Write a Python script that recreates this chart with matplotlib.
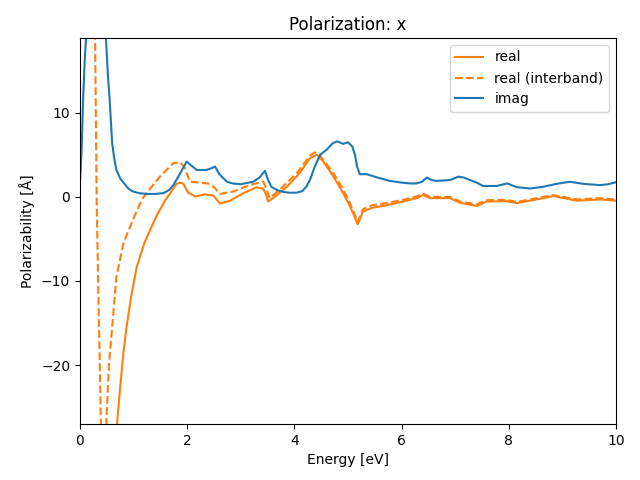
import numpy as np
import matplotlib.pyplot as plt

# energy grid and values
e_imag = [0.0, 0.03, 0.06, 0.09, 0.125, 0.2, 0.3, 0.4, 0.45, 0.485, 0.52, 0.55, 0.6,
          0.64, 0.68, 0.75, 0.81, 0.9, 0.99, 1.1, 1.24, 1.4, 1.56, 1.66, 1.74, 1.87, 1.99,
          2.1, 2.18, 2.36, 2.45, 2.52, 2.6, 2.74, 2.85, 2.99, 3.23, 3.35, 3.45, 3.51, 3.57,
          3.68, 3.79, 3.9, 4.04, 4.15, 4.22, 4.29, 4.38, 4.48, 4.6, 4.72, 4.8, 4.91, 5.0,
          5.08, 5.13, 5.17, 5.22, 5.35, 5.55, 5.78, 6.0, 6.16, 6.28, 6.38, 6.47, 6.56, 6.66,
          6.9, 7.06, 7.16, 7.28, 7.4, 7.52, 7.78, 7.9, 7.97, 8.05, 8.15, 8.4, 8.64, 8.89,
          9.14, 9.39, 9.7, 9.85, 10.0]
imag = [1.7, 5.5, 12.0, 16.5, 20.0, 38.0, 48.0, 32.0, 24.0, 18.7, 14.5, 11.9, 6.4,
        4.5, 3.2, 2.2, 1.7, 1.0, 0.64, 0.45, 0.35, 0.35, 0.45, 0.8, 1.4, 2.8, 4.2,
        3.6, 3.2, 3.2, 3.4, 3.6, 2.7, 1.8, 1.6, 1.5, 1.8, 2.3, 3.1, 2.0, 1.2,
        0.8, 0.6, 0.5, 0.5, 0.7, 1.2, 2.0, 3.6, 5.0, 5.6, 6.4, 6.6, 6.3, 6.5,
        6.0, 5.0, 3.6, 2.7, 2.7, 2.3, 1.9, 1.7, 1.6, 1.6, 1.8, 2.3, 2.0, 1.9,
        2.0, 2.4, 2.3, 2.0, 1.7, 1.3, 1.3, 1.5, 1.6, 1.4, 1.15, 1.0, 1.2, 1.55,
        1.8, 1.55, 1.4, 1.5, 1.75]

e_real = [0.25, 0.35, 0.45, 0.55, 0.62, 0.69, 0.75, 0.81, 0.87, 0.95, 1.06, 1.2, 1.31,
          1.45, 1.59, 1.7, 1.8, 1.87, 1.93, 2.02, 2.15, 2.33, 2.49, 2.61, 2.8, 3.05, 3.3,
          3.42, 3.47, 3.51, 3.61, 3.86, 4.1, 4.29, 4.42, 4.54, 4.73, 4.91, 5.04, 5.1, 5.18,
          5.28, 5.45, 5.66, 6.03, 6.3, 6.4, 6.53, 6.9, 7.09, 7.4, 7.59, 7.96, 8.15,
          8.52, 8.83, 9.27, 9.7, 10.0]
real = [-250.0, -130.0, -75.0, -45.0, -34.0, -27.0, -22.6, -18.5, -15.4, -12.0, -8.3,
        -5.5, -3.9, -2.0, -0.4, 0.6, 1.55, 1.7, 1.55, 0.5, 0.05, 0.3, 0.15, -0.8,
        -0.45, 0.45, 1.15, 0.95, 0.3, -0.55, -0.1, 1.2, 2.85, 4.6, 5.0, 4.2, 2.4, 0.45,
        -1.15, -2.0, -3.25, -1.75, -1.3, -1.07, -0.55, -0.1, 0.24, -0.15, -0.15, -0.7,
        -1.07, -0.55, -0.5, -0.75, -0.3, 0.1, -0.45, -0.3, -0.45]

e_inter = [0.0, 0.1, 0.2, 0.25, 0.28, 0.31, 0.35, 0.39, 0.42, 0.45, 0.49, 0.54, 0.59,
           0.68, 0.81, 0.99, 1.15, 1.24, 1.49, 1.74, 1.87, 1.96, 2.05, 2.24, 2.43, 2.52,
           2.61, 2.86, 3.17, 3.42, 3.48, 3.54, 3.73, 4.04, 4.29, 4.38, 4.48, 4.73, 4.91,
           5.04, 5.1, 5.18, 5.28, 5.45, 5.66, 6.03, 6.3, 6.4, 6.53, 6.9, 7.09, 7.4, 7.59,
           7.96, 8.15, 8.52, 8.83, 9.27, 9.7, 10.0]
inter = [28.0, 33.0, 42.0, 35.0, 20.0, 0.0, -14.0, -27.0, -40.0, -36.0, -27.0, -20.0,
         -16.2, -9.5, -5.5, -2.7, -0.36, 0.44, 2.4, 4.0, 4.1, 3.4, 1.8, 1.7, 1.55, 1.03,
         0.36, 0.64, 1.43, 1.8, 0.9, -0.15, 0.9, 2.8, 4.9, 5.3, 4.9, 2.8, 0.9, -0.8,
         -1.7, -3.0, -1.45, -1.0, -0.8, -0.35, 0.1, 0.4, 0.0, 0.0, -0.55, -0.9, -0.4,
         -0.35, -0.6, -0.15, 0.2, -0.3, -0.15, -0.3]

fig, ax = plt.subplots(figsize=(6.4, 4.8))
ax.plot(e_real, real, color='C1', label='real')
ax.plot(e_inter, inter, color='C1', linestyle='--', label='real (interband)')
ax.plot(e_imag, imag, color='C0', label='imag')
ax.set_xlim(0, 10)
ax.set_ylim(-27.0, 18.9)
ax.set_xlabel('Energy [eV]')
ax.set_ylabel('Polarizability [Å]')
ax.set_title('Polarization: x')
ax.legend(loc='upper right')
fig.subplots_adjust(left=0.125, right=0.9625, top=0.921, bottom=0.1167)
plt.savefig('out.png', dpi=100)
